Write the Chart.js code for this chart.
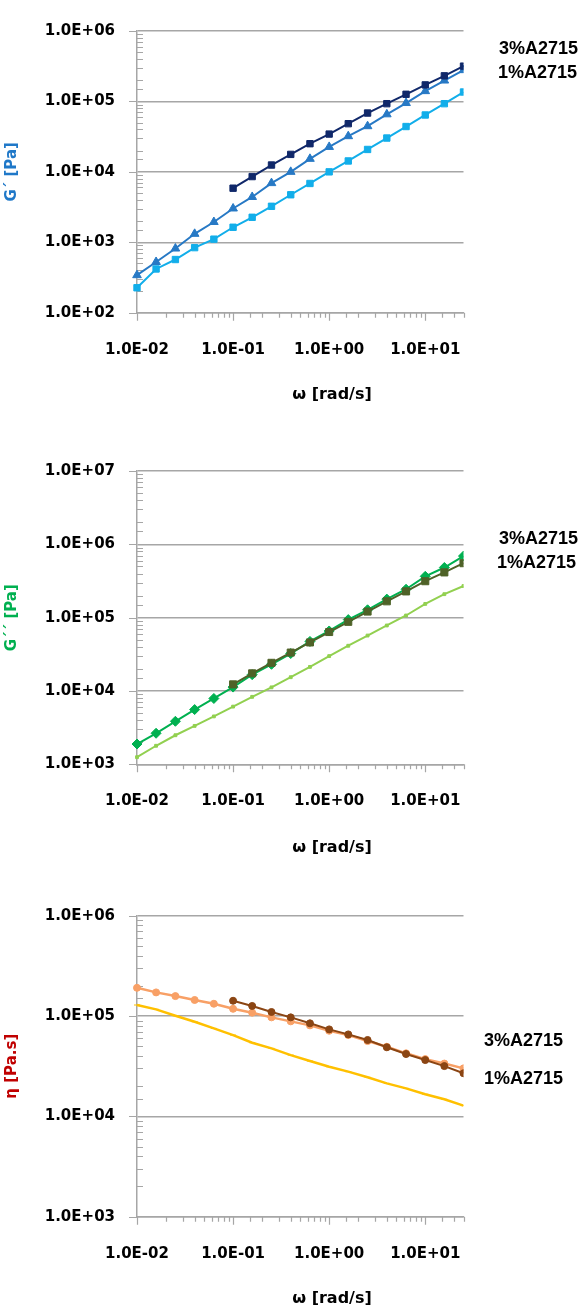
<!DOCTYPE html>
<html>
<head>
<meta charset="utf-8">
<script src="https://cdn.jsdelivr.net/npm/chart.js@4.4.1/dist/chart.umd.min.js"></script>
<style>
  body { margin: 0; background: #fff; width: 584px; height: 1308px; position: relative; overflow: hidden; }
  canvas { position: absolute; left: 0; }
  .leg { position: absolute; font: bold 18px "Liberation Sans", Arial, sans-serif; color: #000; line-height: 20px; white-space: nowrap; }
  .xt { position: absolute; left: 232px; width: 200px; text-align: center; font: bold 16px "DejaVu Sans", sans-serif; color: #000; line-height: 20px; }
</style>
</head>
<body>
<canvas id="gStore" width="584" height="420" style="top:0px"></canvas>
<canvas id="gLoss" width="584" height="430" style="top:440px"></canvas>
<canvas id="eta" width="584" height="428" style="top:880px"></canvas>

<div class="leg" style="left:499px; top:38px">3%A2715</div>
<div class="leg" style="left:498px; top:62px">1%A2715</div>
<div class="xt" style="top:384px">ω [rad/s]</div>

<div class="leg" style="left:499px; top:528px">3%A2715</div>
<div class="leg" style="left:497px; top:552px">1%A2715</div>
<div class="xt" style="top:837px">ω [rad/s]</div>

<div class="leg" style="left:484px; top:1030px">3%A2715</div>
<div class="leg" style="left:484px; top:1068px">1%A2715</div>
<div class="xt" style="top:1288px">ω [rad/s]</div>

<script>
// angular frequency, rad/s
const freq = [0.01, 0.0158, 0.0251, 0.0398, 0.0631, 0.1, 0.158, 0.251, 0.398, 0.631, 1, 1.58, 2.51, 3.98, 6.31, 10, 15.8, 25];

// G' [Pa]
const gStoreNavy  = [null, null, null, null, null, 5860, 8570, 12500, 17700, 25100, 34400, 48300, 68400, 92900, 126300, 171700, 231000, 317000];
const gStoreMid   = [341, 525, 815, 1318, 1940, 3020, 4400, 6920, 10000, 15300, 22600, 32100, 44500, 65600, 94900, 140000, 198000, 278000];
const gStoreLight = [226, 418, 569, 839, 1107, 1634, 2264, 3243, 4728, 6840, 10000, 14280, 20800, 30200, 44000, 64200, 92900, 136000];

// G'' [Pa]
const gLossOlive = [null, null, null, null, null, 12300, 17400, 24200, 33400, 45900, 63700, 87700, 121000, 167000, 228000, 314000, 414000, 553000];
const gLossGreen = [1890, 2650, 3860, 5580, 7900, 11300, 16700, 23100, 32400, 47400, 65800, 94000, 128000, 179000, 244000, 366000, 483000, 692000];
const gLossLight = [1250, 1790, 2490, 3340, 4500, 6120, 8320, 11200, 15400, 21300, 29900, 41400, 57000, 78200, 107000, 154000, 209000, 270000];

// eta [Pa.s]
const etaBrown  = [null, null, null, null, null, 142000, 126000, 109700, 97000, 84600, 73600, 65600, 57700, 48800, 41800, 36400, 31700, 26900];
const etaOrange = [191000, 172000, 158000, 144500, 132600, 118000, 108000, 97000, 88500, 80700, 71300, 64600, 56300, 49400, 42500, 37200, 33600, 30100];
const etaYellow = [128800, 116600, 100700, 87700, 75300, 64600, 54200, 47600, 40800, 35600, 31200, 27900, 24500, 21300, 19000, 16600, 14800, 12800];

const gridColor = '#A6A6A6';
const tickFont = { family: '"DejaVu Sans", sans-serif', weight: 'bold', size: 15 };

const isDecade = v => Math.abs(Math.log10(v) - Math.round(Math.log10(v))) < 1e-6;
const sci = v => {
    const e = Math.round(Math.log10(v));
    return '1.0E' + (e < 0 ? '-' : '+') + String(Math.abs(e)).padStart(2, '0');
};

// excel style tick marks: major outside, minor inside on y
const tickMarks = {
    id: 'tickMarks',
    beforeDatasetsDraw(chart) {
        const { ctx, chartArea: a, scales: { x, y } } = chart;
        ctx.save();
        ctx.strokeStyle = gridColor;
        ctx.lineWidth = 1.2;
        ctx.beginPath();
        y.ticks.forEach(t => {
            const py = Math.round(y.getPixelForValue(t.value)) + 0.5;
            if (isDecade(t.value)) { ctx.moveTo(a.left - 8, py); ctx.lineTo(a.left, py); }
            else { ctx.moveTo(a.left, py); ctx.lineTo(a.left + 6, py); }
        });
        x.ticks.forEach(t => {
            const px = Math.round(x.getPixelForValue(t.value)) + 0.5;
            const len = isDecade(t.value) ? 8 : 5;
            ctx.moveTo(px, a.bottom); ctx.lineTo(px, a.bottom + len);
        });
        ctx.stroke();
        ctx.restore();
    }
};

const series = (label, vals, color, style, radius, width) => ({
    label: label,
    data: freq.map((f, i) => ({ x: f, y: vals[i] })),
    borderColor: color,
    backgroundColor: color,
    pointStyle: style,
    pointRadius: radius,
    pointBorderWidth: 1,
    borderWidth: width,
    tension: 0,
    clip: { left: 8, top: 8, right: 0, bottom: 8 }
});

function makeChart(id, areaTop, areaBottom, yMin, yMax, yTitle, yColor, datasets) {
    const canvas = document.getElementById(id);
    return new Chart(canvas, {
        type: 'line',
        data: { datasets: datasets },
        options: {
            responsive: false,
            animation: false,
            layout: { padding: { top: areaTop, right: 120.5, left: 0, bottom: 0 } },
            plugins: { legend: { display: false }, tooltip: { enabled: false } },
            scales: {
                x: {
                    type: 'logarithmic',
                    min: 0.01,
                    max: 25,
                    grid: { drawOnChartArea: false, drawTicks: false },
                    border: { color: gridColor, width: 1.5 },
                    ticks: {
                        autoSkip: false, maxRotation: 0, padding: 28, color: '#000', font: tickFont,
                        callback: v => isDecade(v) ? sci(v) : ''
                    },
                    afterFit: s => { s.height = canvas.height - areaBottom; }
                },
                y: {
                    type: 'logarithmic',
                    min: yMin,
                    max: yMax,
                    grid: {
                        drawTicks: false,
                        lineWidth: 1.5,
                        color: c => isDecade(c.tick.value) ? gridColor : 'rgba(0,0,0,0)'
                    },
                    border: { color: gridColor, width: 1.5 },
                    ticks: {
                        autoSkip: false, padding: 22, color: '#000', font: tickFont,
                        callback: v => isDecade(v) ? sci(v) : ''
                    },
                    title: {
                        display: true, text: yTitle, color: yColor,
                        font: { family: '"DejaVu Sans", sans-serif', weight: 'bold', size: 15 },
                        padding: { top: 3, bottom: 0 }
                    },
                    afterFit: s => { s.width = 137; }
                }
            }
        },
        plugins: [tickMarks]
    });
}

makeChart('gStore', 14, 312.7, 100, 1e6, 'G´ [Pa]', '#1F78C8', [
    series('3%A2715', gStoreNavy, '#10286A', 'rect', 4.5, 2),
    series('1%A2715', gStoreMid, '#2779C5', 'triangle', 5, 2),
    series('G´', gStoreLight, '#12AEEA', 'rect', 4.5, 2)
]);

makeChart('gLoss', 24.7, 324.3, 1000, 1e7, 'G´´ [Pa]', '#00B050', [
    series('3%A2715', gLossOlive, '#4F6228', 'rect', 5, 2),
    series('1%A2715', gLossGreen, '#00B050', 'rectRot', 5, 2),
    series('G´´', gLossLight, '#92D050', 'rect', 2, 2)
]);

makeChart('eta', 35.7, 336.7, 1000, 1e6, 'η [Pa.s]', '#C00000', [
    series('3%A2715', etaBrown, '#8B4513', 'circle', 3.5, 2),
    series('1%A2715', etaOrange, '#F8A066', 'circle', 3.5, 2.5),
    series('η', etaYellow, '#FFC000', 'line', 3, 2.5)
]);
</script>
</body>
</html>
